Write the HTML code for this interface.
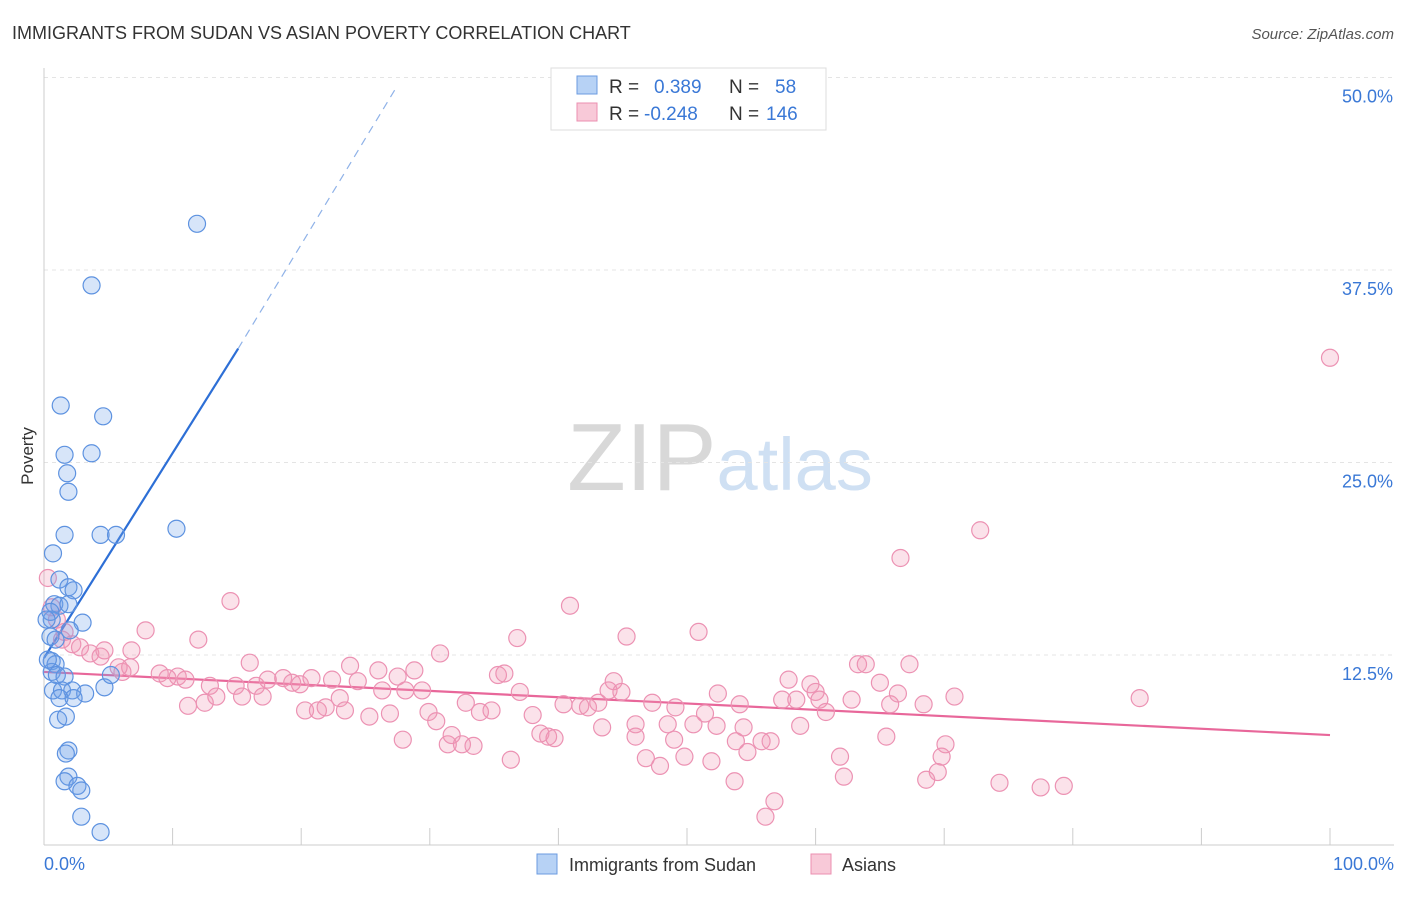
<!DOCTYPE html>
<html><head><meta charset="utf-8"><style>
body{margin:0;background:#fff;font-family:"Liberation Sans",sans-serif}
svg text{font-family:"Liberation Sans",sans-serif}
</style></head><body>
<svg id="chart" width="1406" height="892" xmlns="http://www.w3.org/2000/svg">
<text x="12" y="39" font-size="18" fill="#333">IMMIGRANTS FROM SUDAN VS ASIAN POVERTY CORRELATION CHART</text>
<text x="1394" y="39" font-size="15" fill="#555" text-anchor="end" font-style="italic">Source: ZipAtlas.com</text>
<text x="720" y="490" font-size="96" fill="#ddd" text-anchor="middle" font-family="Liberation Serif"><tspan fill="#d8d8d8">ZIP</tspan><tspan fill="#cfe0f3" font-family="Liberation Sans" font-size="74">atlas</tspan></text>
<text transform="translate(33,456) rotate(-90)" font-size="17" fill="#333" text-anchor="middle">Poverty</text>
<g id="grid"></g><g id="axes"></g><g id="lines"></g><g id="points"></g>
<g>
<rect x="551" y="68" width="275" height="62" fill="#fff" stroke="#ddd"/>
<rect x="577" y="76" width="20" height="18" fill="#b7d2f5" stroke="#6b9be0"/>
<rect x="577" y="103" width="20" height="18" fill="#f8c9d8" stroke="#eb8fb0"/>
<text x="609" y="93" font-size="19" fill="#333">R = <tspan fill="#3a78d6" x="654">0.389</tspan><tspan x="729" fill="#333">N =</tspan><tspan x="775" fill="#3a78d6">58</tspan></text>
<text x="609" y="120" font-size="19" fill="#333">R = <tspan fill="#3a78d6" x="644">-0.248</tspan><tspan x="729" fill="#333">N =</tspan><tspan x="766" fill="#3a78d6">146</tspan></text>
</g>
<g>
<rect x="537" y="854" width="20" height="20" fill="#b7d2f5" stroke="#6b9be0"/>
<text x="569" y="871" font-size="18" fill="#333">Immigrants from Sudan</text>
<rect x="811" y="854" width="20" height="20" fill="#f8c9d8" stroke="#eb8fb0"/>
<text x="842" y="871" font-size="18" fill="#333">Asians</text>
</g>
</svg>
<script>
const yTicks=[12.5,25,37.5,50];
const yTickLabels=["12.5%","25.0%","37.5%","50.0%"];
const xTickLabels=["0.0%","100.0%"];
const sudanX=[11.9,3.7,1.3,4.6,1.6,3.7,1.8,1.9,1.6,4.4,5.6,10.3,0.7,1.2,1.9,2.3,0.8,1.2,1.9,0.6,3.0,0.5,0.6,0.9,0.6,1.0,1.6,0.7,1.4,2.2,3.2,4.7,1.1,1.7,1.9,1.7,1.9,1.6,2.6,2.9,2.9,4.4,5.2,0.3,0.5,0.9,2.0,0.2,1.2,2.3];
const sudanY=[40.5,36.5,28.7,28.0,25.5,25.6,24.3,23.1,20.3,20.3,20.3,20.7,19.1,17.4,16.9,16.7,15.8,15.7,15.8,14.8,14.6,13.7,12.1,11.9,11.4,11.2,11.1,10.2,10.2,10.2,10.0,10.4,8.3,8.5,6.3,6.1,4.6,4.3,4.0,3.7,2.0,1.0,11.2,12.2,15.3,13.5,14.1,14.8,9.7,9.7];
const asianX=[100,72.8,66.6,40.9,14.5,7.9,12.0,36.8,45.3,50.9,30.8,16.0,23.8,26.0,28.8,35.3,35.8,44.3,57.9,59.6,63.3,63.9,67.3,65.0,6.1,6.7,9.0,10.4,11.0,9.6,12.9,14.9,16.5,17.4,18.6,19.3,19.9,20.8,22.4,23.0,24.4,26.3,27.5,28.1,29.4,37.0,38.0,40.4,41.7,42.3,43.1,43.9,44.9,47.3,49.1,52.4,51.4,54.1,57.4,58.5,60.0,60.3,60.8,62.8,65.8,66.4,68.4,70.8,85.2,11.2,12.5,13.4,15.4,17.0,20.3,21.3,21.9,23.4,25.3,26.9,29.9,30.5,32.8,33.9,34.8,38.6,39.2,39.7,43.4,46.0,46.0,48.5,49.0,50.5,52.3,53.8,54.4,54.7,55.8,56.5,58.8,61.9,65.5,70.1,69.8,69.5,68.6,27.9,31.4,31.7,32.5,33.4,36.3,46.8,47.9,49.8,51.9,53.7,62.2,74.3,77.5,79.3,56.8,56.1,1.4,2.2,2.8,3.6,4.4,4.7,6.8,5.8,0.6,1.0,1.6,0.3];
const asianY=[31.8,20.6,18.8,15.7,16.0,14.1,13.5,13.6,13.7,14.0,12.6,12.0,11.8,11.5,11.5,11.2,11.3,10.8,10.9,10.6,11.9,11.9,11.9,10.7,11.4,11.7,11.3,11.1,10.9,11.0,10.5,10.5,10.5,10.9,11.0,10.7,10.6,11.0,10.9,9.7,10.8,10.2,11.1,10.2,10.2,10.1,8.6,9.3,9.2,9.1,9.4,10.2,10.1,9.4,9.1,10.0,8.7,9.3,9.6,9.6,10.1,9.6,8.8,9.6,9.3,10.0,9.3,9.8,9.7,9.2,9.4,9.8,9.8,9.8,8.9,8.9,9.1,8.9,8.5,8.7,8.8,8.2,9.4,8.8,8.9,7.4,7.2,7.1,7.8,8.0,7.2,8.0,7.0,8.0,7.9,6.9,7.8,6.2,6.9,6.9,7.9,5.9,7.2,6.7,5.9,4.9,4.4,7.0,6.7,7.3,6.7,6.6,5.7,5.8,5.3,5.9,5.6,4.3,4.6,4.2,3.9,4.0,3.0,2.0,13.5,13.2,13.0,12.6,12.4,12.8,12.8,11.7,15.6,14.8,14.0,17.5];
const sudanTrend=[[0,12.3],[15.1,32.4]];
const sudanTrendExt=[[15.1,32.4],[27.5,49.5]];
const asianTrend=[[0,11.4],[100,7.3]];

const NS="http://www.w3.org/2000/svg";
const X=v=>44+v*12.86;
const Y=v=>847.5-v*15.4;
function mk(parent,tag,attrs){const e=document.createElementNS(NS,tag);for(const k in attrs)e.setAttribute(k,attrs[k]);document.getElementById(parent).appendChild(e);return e;}
yTicks.forEach((t,i)=>{
 const g=mk('grid','line',{x1:44,x2:1394,y1:Y(t),y2:Y(t),stroke:'#e4e4e4','stroke-dasharray':'4,4'});
 
 
 const tx=mk('grid','text',{x:1393,y:Y(t)+25,'font-size':18,fill:'#3a78d6','text-anchor':'end'});
 tx.textContent=yTickLabels[i];
 
 
});
const ax=mk('axes','line',{x1:44,x2:44,y1:68,y2:845,stroke:'#ccc'});


const axx=mk('axes','line',{x1:44,x2:1394,y1:845,y2:845,stroke:'#ccc'});


for(let i=0;i<=10;i++){const tk=mk('axes','line',{x1:X(i*10),x2:X(i*10),y1:828,y2:845,stroke:'#ccc'});
 
 }
[[0,'start',X(0)],[1,'end',1394]].forEach(([i,a,x])=>{const t=mk('axes','text',{x:x,y:870,'font-size':18,fill:'#3a78d6','text-anchor':a});t.textContent=xTickLabels[i];
 
 });
asianX.forEach((v,i)=>{const c=mk('points','circle',{cx:X(v),cy:Y(asianY[i]),r:8.5,fill:'rgba(242,150,180,0.28)',stroke:'#ec92b3','stroke-width':1.2});
 
 });
sudanX.forEach((v,i)=>{const c=mk('points','circle',{cx:X(v),cy:Y(sudanY[i]),r:8.5,fill:'rgba(110,160,235,0.28)',stroke:'#5d92e0','stroke-width':1.2});
 
 });
const l1=mk('lines','line',{x1:X(sudanTrend[0][0]),y1:Y(sudanTrend[0][1]),x2:X(sudanTrend[1][0]),y2:Y(sudanTrend[1][1]),stroke:'#2d6fd6','stroke-width':2.2});


const l2=mk('lines','line',{x1:X(sudanTrendExt[0][0]),y1:Y(sudanTrendExt[0][1]),x2:X(sudanTrendExt[1][0]),y2:Y(sudanTrendExt[1][1]),stroke:'#8fb2e8','stroke-width':1.2,'stroke-dasharray':'8,6'});


const l3=mk('lines','line',{x1:X(asianTrend[0][0]),y1:Y(asianTrend[0][1]),x2:X(asianTrend[1][0]),y2:Y(asianTrend[1][1]),stroke:'#e8679a','stroke-width':2.2});


</script>
</body></html>
